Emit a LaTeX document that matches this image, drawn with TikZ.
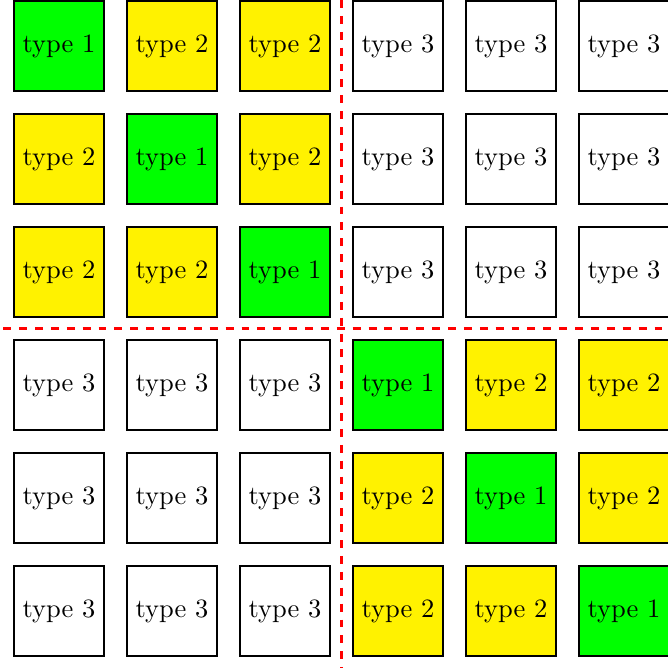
\documentclass[tikz,border=0pt]{standalone}
\begin{document}
\tikzset{
  cell/.style={draw=black, thick, minimum size=1.2cm, inner sep=0pt},
  t1/.style={cell, fill=green},
  t2/.style={cell, fill=yellow},
  t3/.style={cell, fill=white},
  sepline/.style={red, thick, dashed}
}
\begin{tikzpicture}
\useasboundingbox (-0.783,0.611) rectangle (8.084,-8.257);
\clip (-0.783,0.611) rectangle (8.084,-8.257);
\foreach \r in {0,...,5} {
  \foreach \c in {0,...,5} {
    \pgfmathtruncatemacro\same{((\r<3)==(\c<3))}
    \pgfmathtruncatemacro\t{ifthenelse(\same==1, ifthenelse(\r==\c,1,2), 3)}
    \node[t\t] (n\r\c) at (1.5*\c, -1.5*\r) {type \t};
  }
}
\coordinate (vtop) at (3.75,0.611);
\coordinate (vbot) at (3.75,-8.3);
\coordinate (hleft) at (-0.74,-3.75);
\coordinate (hright) at (8.2,-3.75);
\draw[sepline] (vtop) -- (vbot);
\draw[sepline] (hleft) -- (hright);
\end{tikzpicture}
\end{document}
